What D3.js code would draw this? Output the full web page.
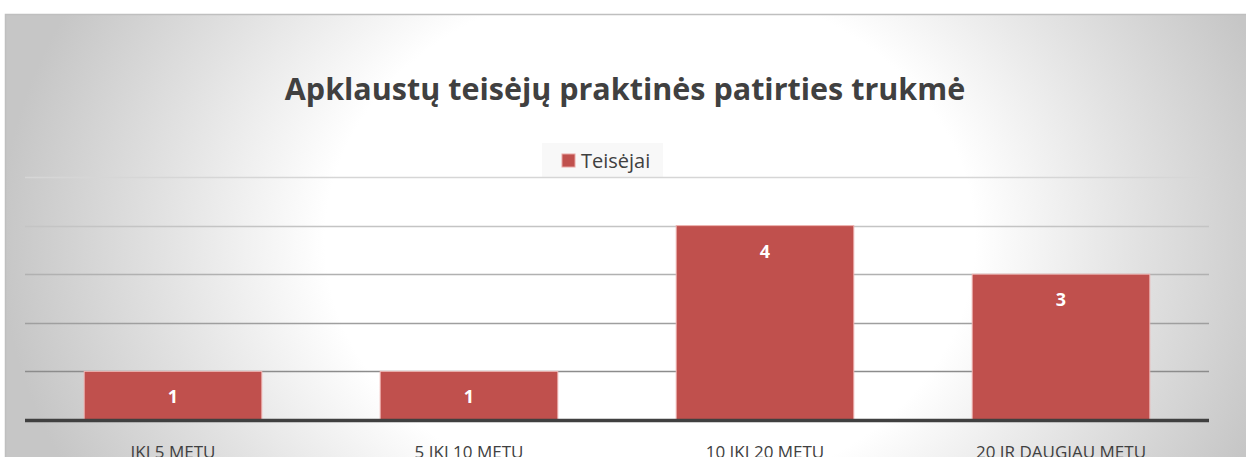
<!DOCTYPE html>
<html>
<head>
<meta charset="utf-8">
<script src="https://cdn.jsdelivr.net/npm/d3@7"></script>
<style>
  html, body { margin: 0; padding: 0; background: #ffffff; overflow: hidden; }
  svg { display: block; font-family: "Open Sans", "Noto Sans", sans-serif; }
</style>
</head>
<body>
<div id="chart"></div>
<script>
// chart data
const title = "Apklaustų teisėjų praktinės patirties trukmė";
const seriesName = "Teisėjai";
const categories = ["IKI 5 METŲ", "5 IKI 10 METŲ", "10 IKI 20 METŲ", "20 IR DAUGIAU METŲ"];
const values = [1, 1, 4, 3];
const yTicks = [1, 2, 3, 4, 5];

const width = 1246, height = 457;
const box = { x: 5, y: 14, w: 1246, h: 460 };
const plot = { left: 25, right: 1209, top: 177, bottom: 420 };
const barColor = "#c0504d";
const textColor = "#404040";

const svg = d3.select("#chart").append("svg")
    .attr("width", width)
    .attr("height", height);

// radial background like the office chart style
const defs = svg.append("defs");
const grad = defs.append("radialGradient")
    .attr("id", "bg")
    .attr("gradientUnits", "userSpaceOnUse")
    .attr("cx", 0).attr("cy", 0).attr("r", 1)
    .attr("gradientTransform", "translate(650,240) scale(650,520)");
grad.append("stop").attr("offset", 0).attr("stop-color", "#ffffff");
grad.append("stop").attr("offset", 0.5).attr("stop-color", "#ffffff");
grad.append("stop").attr("offset", 0.75).attr("stop-color", "#e2e2e2");
grad.append("stop").attr("offset", 1).attr("stop-color", "#c6c6c6");

svg.append("rect")
    .attr("x", box.x + 0.5).attr("y", box.y + 0.5)
    .attr("width", box.w).attr("height", box.h)
    .attr("fill", "url(#bg)")
    .attr("stroke", "#bfbfbf")
    .attr("stroke-width", 1.5);

// title
svg.append("text")
    .attr("x", 625).attr("y", 100)
    .attr("text-anchor", "middle")
    .attr("fill", textColor)
    .style("font-size", "30.5px")
    .style("font-weight", "bold")
    .text(title);

// legend
const legend = svg.append("g");
legend.append("rect")
    .attr("x", 542).attr("y", 143).attr("width", 121).attr("height", 35)
    .attr("fill", "#f8f8f8");
legend.append("rect")
    .attr("x", 562).attr("y", 154).attr("width", 13).attr("height", 13)
    .attr("fill", barColor)
    .attr("stroke", "#e8a5a3").attr("stroke-width", 1);
legend.append("text")
    .attr("x", 581).attr("y", 168)
    .attr("fill", textColor)
    .style("font-size", "20px")
    .text(seriesName);

// scales
const x = d3.scaleBand()
    .domain(categories)
    .range([plot.left, plot.right])
    .paddingInner(0.4)
    .paddingOuter(0.2);

const y = d3.scaleLinear()
    .domain([0, 5])
    .range([plot.bottom, plot.top]);

// gridlines get darker toward the bottom
const gridColor = d3.scaleLinear()
    .domain([5, 1])
    .range(["#d6d6d6", "#8c8c8c"]);

svg.append("g")
    .selectAll("line")
    .data(yTicks)
    .join("line")
    .attr("x1", plot.left).attr("x2", plot.right)
    .attr("y1", d => Math.round(y(d)) + 0.5)
    .attr("y2", d => Math.round(y(d)) + 0.5)
    .attr("stroke", d => gridColor(d))
    .attr("stroke-width", 1.5);

// bars
svg.append("g")
    .selectAll("rect")
    .data(values)
    .join("rect")
    .attr("x", (d, i) => x(categories[i]))
    .attr("y", d => y(d))
    .attr("width", x.bandwidth())
    .attr("height", d => y(0) - y(d))
    .attr("fill", barColor)
    .attr("stroke", "#eeb3b1")
    .attr("stroke-width", 1);

// data labels
svg.append("g")
    .selectAll("text")
    .data(values)
    .join("text")
    .attr("x", (d, i) => x(categories[i]) + x.bandwidth() / 2)
    .attr("y", d => y(d) + 32)
    .attr("text-anchor", "middle")
    .attr("fill", "#ffffff")
    .style("font-size", "18px")
    .style("font-weight", "bold")
    .text(d => d);

// baseline
svg.append("line")
    .attr("x1", plot.left).attr("x2", plot.right)
    .attr("y1", y(0) + 0.5).attr("y2", y(0) + 0.5)
    .attr("stroke", textColor)
    .attr("stroke-width", 3.5);

// category axis
const xAxis = svg.append("g")
    .attr("transform", `translate(0,${plot.bottom})`)
    .call(d3.axisBottom(x).tickSize(0).tickPadding(0));
xAxis.select(".domain").remove();
xAxis.selectAll("text")
    .attr("y", 38)
    .attr("dy", 0)
    .attr("fill", textColor)
    .style("font-size", "17px")
    .style("font-family", "'Open Sans', 'Noto Sans', sans-serif");
</script>
</body>
</html>
